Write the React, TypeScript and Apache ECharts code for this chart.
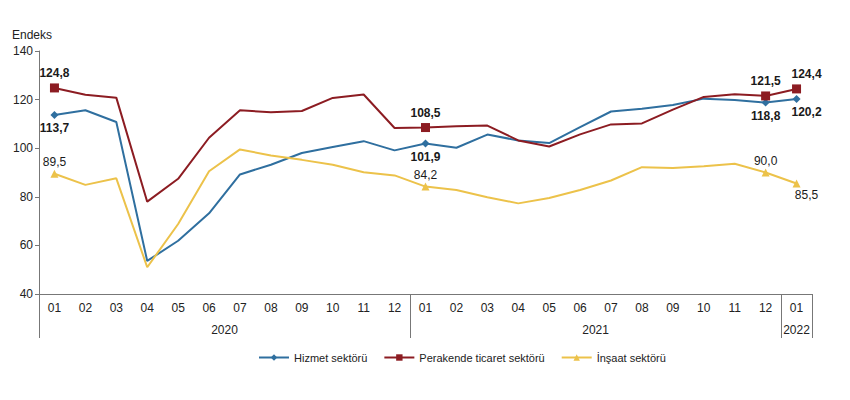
import { useEffect, useRef } from "react";
import * as echarts from "echarts";

// months 2020-01 .. 2022-01
const months = [
  "01", "02", "03", "04", "05", "06", "07", "08", "09", "10", "11", "12",
  "01", "02", "03", "04", "05", "06", "07", "08", "09", "10", "11", "12",
  "01",
];
const yearTicks = [0, 12, 24, 25];
const yearLabelPos = [6, 18, 24.5];
const yearNames = ["2020", "2021", "2022"];

const hizmet = [
  113.7, 115.6, 110.8, 53.6, 61.9, 73.2, 89.2, 93.2, 98.0, 100.5, 102.9, 99.1,
  101.9, 100.2, 105.6, 103.2, 102.1, 108.7, 115.1, 116.2, 117.8, 120.4, 119.8, 118.8,
  120.2,
];
const perakende = [
  124.8, 122.0, 120.8, 78.0, 87.4, 104.3, 115.6, 114.8, 115.3, 120.7, 122.1, 108.3,
  108.5, 109.0, 109.3, 103.2, 100.7, 105.7, 109.8, 110.2, 115.9, 121.1, 122.2, 121.5,
  124.4,
];
const insaat = [
  89.5, 84.9, 87.6, 51.0, 68.8, 90.5, 99.5, 97.0, 95.2, 93.2, 90.1, 88.8,
  84.2, 82.8, 79.8, 77.3, 79.5, 82.8, 86.7, 92.2, 91.9, 92.6, 93.6, 90.0,
  85.5,
];

// points that carry a marker and a value label
const markedIdx = [0, 12, 23, 24];
const hizmetLabelPos = ["bottom", "bottom", "bottom", "bottom"];
const perakendeLabelPos = ["top", "top", "top", "top"];
const insaatLabelPos = ["top", "top", "top", "bottom"];

const BLUE = "#2f6f9f";
const RED = "#8c1c22";
const YELLOW = "#ecc24a";
const FONT = "Liberation Sans, Arial, sans-serif";

const fmt = (v: number) => v.toFixed(1).replace(".", ",");

function buildData(values: number[], positions: string[], bold: boolean, distance: number) {
  return values.map((v, i) => {
    const k = markedIdx.indexOf(i);
    if (k < 0) return { value: v, symbolSize: 0 };
    const last = i === values.length - 1;
    return {
      value: v,
      label: {
        show: true,
        position: positions[k],
        distance,
        offset: last ? [10, 0] : [0, 0],
        formatter: () => fmt(v),
        fontWeight: bold ? "bold" : "normal",
      },
    };
  });
}

export default function App() {
  const ref = useRef<HTMLDivElement>(null);

  useEffect(() => {
    if (!ref.current) return;
    const chart = echarts.init(ref.current, undefined, { renderer: "svg" });

    const lineSeries = (
      name: string,
      color: string,
      symbol: string,
      size: number,
      data: any[]
    ) => ({
      name,
      type: "line" as const,
      xAxisIndex: 0,
      data,
      symbol,
      symbolSize: size,
      showSymbol: true,
      lineStyle: { color, width: 2 },
      itemStyle: { color },
      label: {
        color: "#1a1a1a",
        fontSize: 12,
        fontFamily: FONT,
      },
      z: 3,
    });

    chart.setOption({
      animation: false,
      backgroundColor: "#fff",
      title: {
        text: "Endeks",
        left: 4,
        top: 21,
        padding: 0,
        textStyle: { fontSize: 12, fontWeight: "normal", color: "#222", fontFamily: FONT },
      },
      grid: { left: 31, right: 30, top: 43, bottom: 98 },
      legend: {
        top: 339,
        left: 245,
        itemWidth: 30,
        itemHeight: 8,
        itemGap: 16,
        textStyle: {
          fontSize: 11,
          color: "#222",
          fontFamily: "Liberation Sans Narrow, Liberation Sans, Arial, sans-serif",
        },
      },
      xAxis: [
        {
          type: "category",
          data: months,
          boundaryGap: true,
          axisLine: { lineStyle: { color: "#777", width: 1 } },
          axisTick: { interval: 0, length: 22, lineStyle: { color: "#777" } },
          axisLabel: { interval: 0, fontSize: 12, color: "#222", margin: 8, fontFamily: FONT },
        },
        {
          type: "value",
          position: "bottom",
          min: 0,
          max: 25,
          axisLine: { show: false },
          splitLine: { show: false },
          axisTick: {
            show: true,
            length: 44,
            customValues: yearTicks,
            lineStyle: { color: "#777" },
          },
          axisLabel: {
            customValues: yearLabelPos,
            margin: 30,
            fontSize: 12,
            color: "#222",
            fontFamily: FONT,
            formatter: (v: number) => {
              const k = yearLabelPos.indexOf(v);
              return k >= 0 ? yearNames[k] : "";
            },
          },
        },
      ],
      yAxis: {
        type: "value",
        min: 40,
        max: 140,
        interval: 20,
        axisLine: { show: true, lineStyle: { color: "#777" } },
        axisTick: { show: true, length: 4, lineStyle: { color: "#777" } },
        splitLine: { show: false },
        axisLabel: { fontSize: 12, color: "#222", margin: 6, fontFamily: FONT },
      },
      series: [
        lineSeries("Hizmet sektörü", BLUE, "diamond", 8, buildData(hizmet, hizmetLabelPos, true, 3)),
        lineSeries("Perakende ticaret sektörü", RED, "rect", 9, buildData(perakende, perakendeLabelPos, true, 4)),
        lineSeries("İnşaat sektörü", YELLOW, "triangle", 8, buildData(insaat, insaatLabelPos, false, 2)),
      ],
    });

    return () => chart.dispose();
  }, []);

  return <div ref={ref} style={{ width: 834, height: 384 }} />;
}
